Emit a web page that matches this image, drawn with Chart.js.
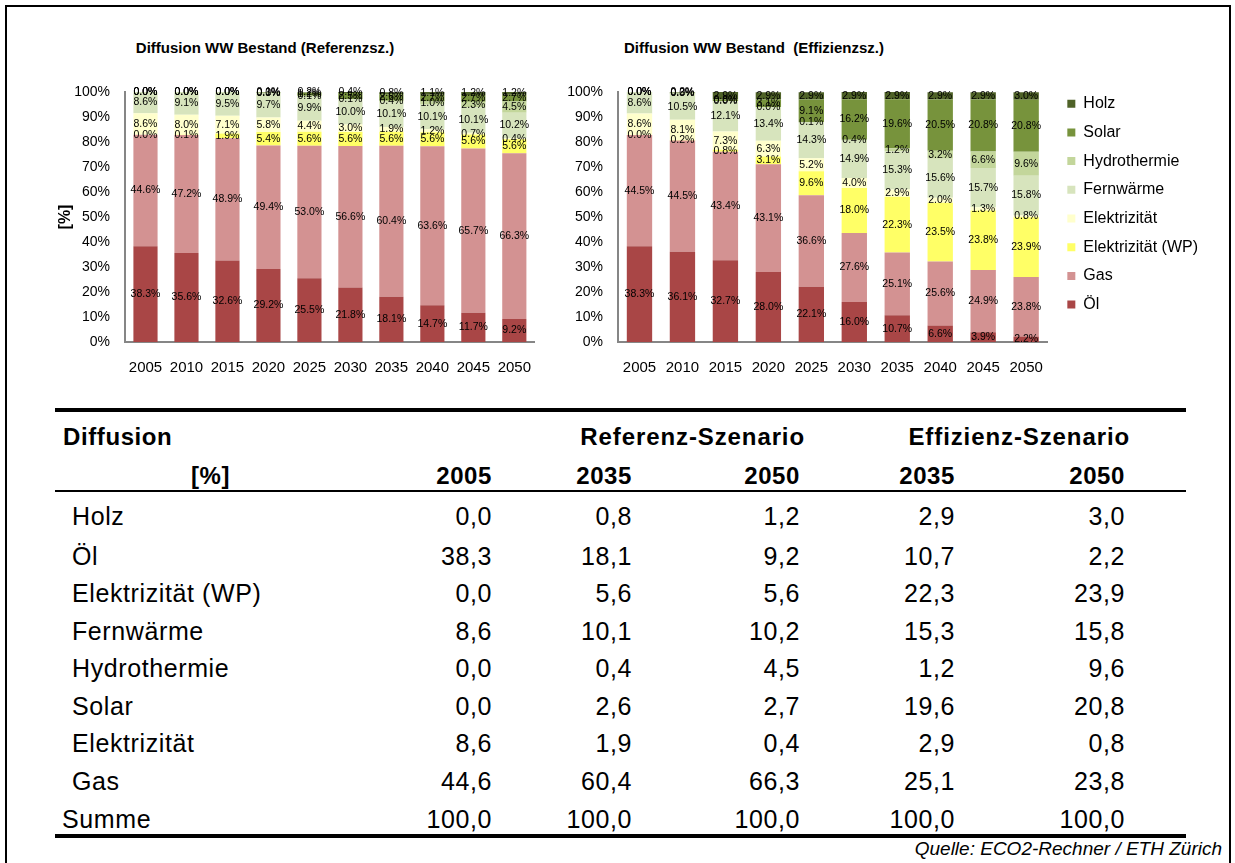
<!DOCTYPE html>
<html>
<head>
<meta charset="utf-8">
<script src="https://cdn.jsdelivr.net/npm/chart.js@4.4.0/dist/chart.umd.min.js"></script>
<style>
  body { margin: 0; width: 1235px; height: 863px; background: #fff; position: relative; overflow: hidden;
         font-family: "Liberation Sans", Arial, sans-serif; color: #000; }
  #rahmen { position: absolute; left: 5px; top: 5px; width: 1222px; height: 880px; border: 2px solid #000; }
  .titel { position: absolute; top: 39px; font-size: 15px; line-height: 18px; font-weight: bold; white-space: pre; transform: translateX(-50%); }
  #wrapRef { position: absolute; left: 55px; top: 60px; width: 493px; height: 334px; }
  #wrapEff { position: absolute; left: 545px; top: 60px; width: 656px; height: 334px; }
  #tabelle { position: absolute; left: 55px; top: 408px; width: 1131px; border-collapse: collapse; table-layout: fixed;
             border-top: 4px solid #000; border-bottom: 4px solid #000; }
  #tabelle th, #tabelle td { padding: 0 5px 0 0; text-align: right; white-space: nowrap; }
  #tabelle thead th { font-weight: bold; font-size: 24px; letter-spacing: 0.6px; }
  #tabelle th.szen { padding-right: 0; letter-spacing: 0.9px; }
  #tabelle td { font-size: 25px; letter-spacing: 0.6px; height: 37.5px; }
  #tabelle tr.k1 th { height: 50px; }
  #tabelle tr.k2 th { height: 26px; border-bottom: 2px solid #000; }
  #tabelle th.lab { text-align: left; padding-left: 8px; }
  #tabelle th.pct { text-align: left; padding-left: 136px; }
  #tabelle td.name { text-align: left; padding-left: 17px; }
  #tabelle td.summe { padding-left: 7px; }
  #tabelle tbody tr:first-child td { height: 41.5px; padding-top: 4px; }
  #tabelle tbody tr:last-child td { height: 30px; line-height: 30px; padding-top: 4px; vertical-align: top; }
  #quelle { position: absolute; right: 13px; top: 839px; font-size: 19px; line-height: 20px; font-style: italic; }
</style>
</head>
<body>
<div id="rahmen"></div>
<div class="titel" style="left:265px">Diffusion WW Bestand (Referenzsz.)</div>
<div class="titel" style="left:754px">Diffusion WW Bestand  (Effizienzsz.)</div>
<div id="wrapRef"><canvas id="chartRef"></canvas></div>
<div id="wrapEff"><canvas id="chartEff"></canvas></div>

<table id="tabelle">
  <colgroup>
    <col style="width:245px"><col style="width:197px"><col style="width:140px">
    <col style="width:168px"><col style="width:155px"><col style="width:170px"><col style="width:56px">
  </colgroup>
  <thead>
    <tr class="k1"><th class="lab">Diffusion</th><th></th><th colspan="2" class="szen">Referenz-Szenario</th><th colspan="2" class="szen">Effizienz-Szenario</th><th></th></tr>
    <tr class="k2" id="kopfJahre"><th class="pct">[%]</th></tr>
  </thead>
  <tbody id="tabKoerper"></tbody>
</table>
<div id="quelle">Quelle: ECO2-Rechner / ETH Zürich</div>

<script>
// Achsen / Kategorien
const jahre = ["2005", "2010", "2015", "2020", "2025", "2030", "2035", "2040", "2045", "2050"];

// Energieträger (von unten nach oben gestapelt)
const traeger = ["Öl", "Gas", "Elektrizität (WP)", "Elektrizität", "Fernwärme", "Hydrothermie", "Solar", "Holz"];
const farben = ["#A94646", "#D39292", "#FFFF66", "#FFFFCC", "#D7E4BD", "#C3D69B", "#77933C", "#4F6228"];

// Referenzszenario [%]
const refOel   = [38.3, 35.6, 32.6, 29.2, 25.5, 21.8, 18.1, 14.7, 11.7, 9.2];
const refGas   = [44.6, 47.2, 48.9, 49.4, 53.0, 56.6, 60.4, 63.6, 65.7, 66.3];
const refWP    = [0.0, 0.1, 1.9, 5.4, 5.6, 5.6, 5.6, 5.6, 5.6, 5.6];
const refElek  = [8.6, 8.0, 7.1, 5.8, 4.4, 3.0, 1.9, 1.2, 0.7, 0.4];
const refFern  = [8.6, 9.1, 9.5, 9.7, 9.9, 10.0, 10.1, 10.1, 10.1, 10.2];
const refHydro = [0.0, 0.0, 0.0, 0.0, 0.1, 0.1, 0.4, 1.0, 2.3, 4.5];
const refSolar = [0.0, 0.0, 0.0, 0.3, 1.2, 2.5, 2.6, 2.7, 2.7, 2.7];
const refHolz  = [0.0, 0.0, 0.0, 0.1, 0.2, 0.4, 0.8, 1.1, 1.2, 1.2];

// Effizienzszenario [%]
const effOel   = [38.3, 36.1, 32.7, 28.0, 22.1, 16.0, 10.7, 6.6, 3.9, 2.2];
const effGas   = [44.5, 44.5, 43.4, 43.1, 36.6, 27.6, 25.1, 25.6, 24.9, 23.8];
const effWP    = [0.0, 0.2, 0.8, 3.1, 9.6, 18.0, 22.3, 23.5, 23.8, 23.9];
const effElek  = [8.6, 8.1, 7.3, 6.3, 5.2, 4.0, 2.9, 2.0, 1.3, 0.8];
const effFern  = [8.6, 10.5, 12.1, 13.4, 14.3, 14.9, 15.3, 15.6, 15.7, 15.8];
const effHydro = [0.0, 0.0, 0.0, 0.0, 0.1, 0.4, 1.2, 3.2, 6.6, 9.6];
const effSolar = [0.0, 0.3, 0.8, 3.1, 9.1, 16.2, 19.6, 20.5, 20.8, 20.8];
const effHolz  = [0.0, 0.2, 2.9, 2.9, 2.9, 2.9, 2.9, 2.9, 2.9, 3.0];

// Tabelle
const tabKopf    = ["2005", "2035", "2050", "2035", "2050"];
const tabZeilen  = ["Holz", "Öl", "Elektrizität (WP)", "Fernwärme", "Hydrothermie", "Solar", "Elektrizität", "Gas", "Summe"];
const tab2005    = ["0,0", "38,3", "0,0", "8,6", "0,0", "0,0", "8,6", "44,6", "100,0"];
const tabRef2035 = ["0,8", "18,1", "5,6", "10,1", "0,4", "2,6", "1,9", "60,4", "100,0"];
const tabRef2050 = ["1,2", "9,2", "5,6", "10,2", "4,5", "2,7", "0,4", "66,3", "100,0"];
const tabEff2035 = ["2,9", "10,7", "22,3", "15,3", "1,2", "19,6", "2,9", "25,1", "100,0"];
const tabEff2050 = ["3,0", "2,2", "23,9", "15,8", "9,6", "20,8", "0,8", "23,8", "100,0"];

Chart.defaults.font.family = "'Liberation Sans', Arial, sans-serif";
Chart.defaults.color = "#000";

// Werte in die Balken schreiben
const wertLabels = {
  id: "wertLabels",
  afterDatasetsDraw(chart) {
    const ctx = chart.ctx;
    ctx.save();
    ctx.font = "10.5px 'Liberation Sans', Arial, sans-serif";
    ctx.fillStyle = "#000";
    ctx.textAlign = "center";
    ctx.textBaseline = "middle";
    chart.data.datasets.forEach((ds, i) => {
      chart.getDatasetMeta(i).data.forEach((bar, j) => {
        ctx.fillText(ds.data[j].toFixed(1) + "%", bar.x, (bar.y + bar.base) / 2);
      });
    });
    ctx.restore();
  }
};

// Legende etwas verschieben (wie im Original)
const legendeVerschieben = {
  id: "legendeVerschieben",
  afterLayout(chart) {
    const lg = chart.legend;
    if (!lg || !lg.options.display) return;
    lg.left += 7; lg.right += 7;
    lg.top -= 9; lg.bottom -= 9;
  }
};

function datensaetze(reihen) {
  return reihen.map((werte, i) => ({
    label: traeger[i],
    data: werte,
    backgroundColor: farben[i],
    borderWidth: 0,
    barPercentage: 0.59,
    categoryPercentage: 1.0
  }));
}

function skalen(achsenBreite, mitTitel) {
  return {
    x: {
      stacked: true,
      grid: { display: false, drawTicks: false },
      border: { color: "#868686", width: 2 },
      ticks: { font: { size: 15 }, padding: 17, maxRotation: 0 }
    },
    y: {
      stacked: true,
      min: 0,
      max: 100,
      grid: { display: false, drawTicks: false },
      border: { color: "#868686", width: 2 },
      ticks: { stepSize: 10, font: { size: 14 }, padding: 15, callback: (v) => v + "%" },
      title: { display: mitTitel, text: "[%]", font: { size: 16, weight: "bold" }, padding: { top: 1, bottom: 0 } },
      afterFit(s) { s.width = achsenBreite; }
    }
  };
}

new Chart(document.getElementById("chartRef"), {
  type: "bar",
  data: { labels: jahre, datasets: datensaetze([refOel, refGas, refWP, refElek, refFern, refHydro, refSolar, refHolz]) },
  options: {
    responsive: true,
    maintainAspectRatio: false,
    animation: false,
    layout: { padding: { top: 32, right: 0, bottom: 0, left: 0 } },
    plugins: { legend: { display: false }, tooltip: { enabled: false } },
    scales: skalen(70, true)
  },
  plugins: [wertLabels]
});

new Chart(document.getElementById("chartEff"), {
  type: "bar",
  data: { labels: jahre, datasets: datensaetze([effOel, effGas, effWP, effElek, effFern, effHydro, effSolar, effHolz]) },
  options: {
    responsive: true,
    maintainAspectRatio: false,
    animation: false,
    layout: { padding: { top: 32, right: 0, bottom: 0, left: 0 } },
    plugins: {
      legend: {
        position: "right",
        align: "start",
        reverse: true,
        labels: { boxWidth: 8, boxHeight: 8, padding: 12.7, font: { size: 16 } }
      },
      tooltip: { enabled: false }
    },
    scales: skalen(73, false)
  },
  plugins: [wertLabels, legendeVerschieben]
});

// Tabelle füllen
const kopf = document.getElementById("kopfJahre");
tabKopf.forEach((j) => {
  const th = document.createElement("th");
  th.textContent = j;
  kopf.appendChild(th);
});
kopf.appendChild(document.createElement("th"));

const koerper = document.getElementById("tabKoerper");
tabZeilen.forEach((name, i) => {
  const tr = document.createElement("tr");
  const tdName = document.createElement("td");
  tdName.className = name === "Summe" ? "name summe" : "name";
  tdName.textContent = name;
  tr.appendChild(tdName);
  [tab2005, tabRef2035, tabRef2050, tabEff2035, tabEff2050].forEach((spalte) => {
    const td = document.createElement("td");
    td.textContent = spalte[i];
    tr.appendChild(td);
  });
  tr.appendChild(document.createElement("td"));
  koerper.appendChild(tr);
});
</script>
</body>
</html>
